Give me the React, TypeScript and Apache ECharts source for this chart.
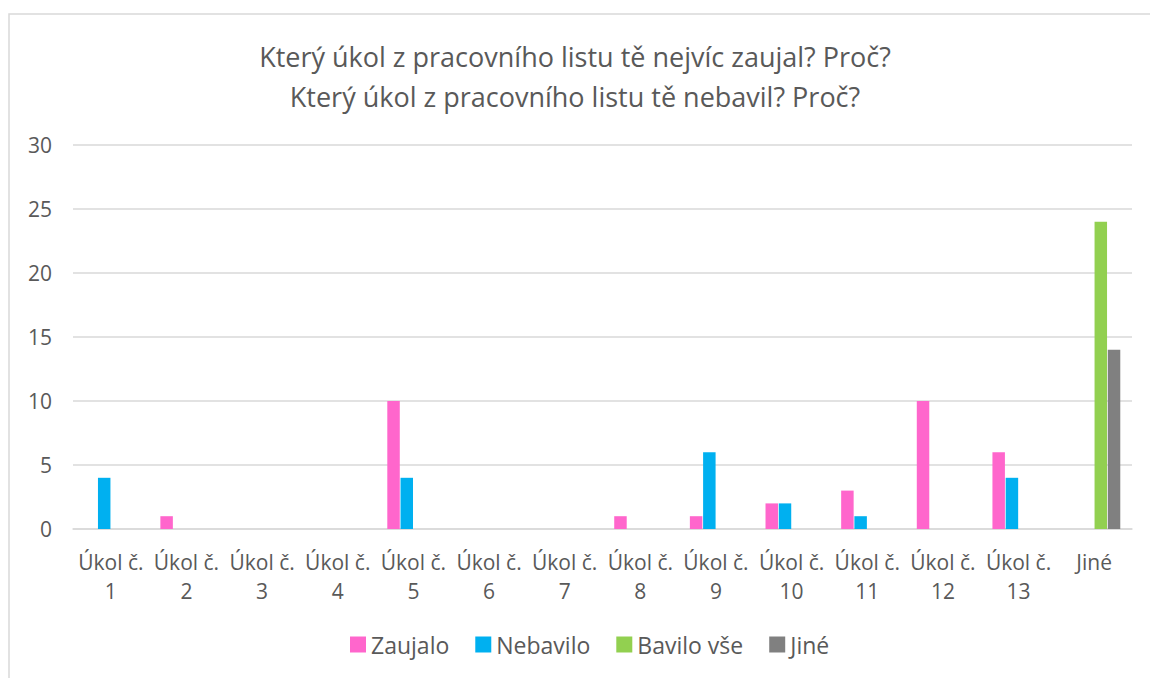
import React, { useEffect, useRef } from "react";
import * as echarts from "echarts";

const categories = ["Úkol č.\n1", "Úkol č.\n2", "Úkol č.\n3", "Úkol č.\n4", "Úkol č.\n5", "Úkol č.\n6", "Úkol č.\n7", "Úkol č.\n8", "Úkol č.\n9", "Úkol č.\n10", "Úkol č.\n11", "Úkol č.\n12", "Úkol č.\n13", "Jiné"];
const zaujalo = [0, 1, 0, 0, 10, 0, 0, 1, 1, 2, 3, 10, 6, 0];
const nebavilo = [4, 0, 0, 0, 4, 0, 0, 0, 6, 2, 1, 0, 4, 0];
const bavilo = [0, 0, 0, 0, 0, 0, 0, 0, 0, 0, 0, 0, 0, 24];
const jine = [0, 0, 0, 0, 0, 0, 0, 0, 0, 0, 0, 0, 0, 14];
const titleText = "Který úkol z pracovního listu tě nejvíc zaujal? Proč?\nKterý úkol z pracovního listu tě nebavil? Proč?";

const FONT = "Open Sans";
const TXT = "#595959";

export default function App() {
  const ref = useRef<HTMLDivElement>(null);
  useEffect(() => {
    document.body.style.margin = "0";
    const chart = echarts.init(ref.current!, null, { renderer: "svg" });
    const mk = (name: string, data: number[], color: string) => ({
      name,
      type: "bar",
      data,
      barGap: "6%",
      barCategoryGap: "31%",
      itemStyle: { color },
    });
    chart.setOption({
      animation: false,
      backgroundColor: "#fff",
      textStyle: { fontFamily: FONT },
      graphic: [
        {
          type: "rect",
          shape: { x: 9, y: 14, width: 1200, height: 700 },
          style: { fill: "none", stroke: "#d9d9d9", lineWidth: 1.5 },
          silent: true,
        },
      ],
      title: {
        text: titleText,
        left: "center",
        top: 31,
        textStyle: { fontFamily: FONT, fontSize: 27, fontWeight: "normal", color: TXT, lineHeight: 40 },
      },
      legend: {
        bottom: 17,
        left: 345,
        itemWidth: 16,
        itemHeight: 16,
        itemGap: 26,
        icon: "rect",
        textStyle: { fontFamily: FONT, fontSize: 23, color: TXT },
        data: ["Zaujalo", "Nebavilo", "Bavilo vše", "Jiné"],
      },
      grid: { left: 73, right: 18, top: 145, bottom: 149, containLabel: false },
      xAxis: {
        type: "category",
        data: categories,
        axisLine: { lineStyle: { color: "#d9d9d9", width: 1.5 } },
        axisTick: { show: false },
        axisLabel: { fontFamily: FONT, fontSize: 21, color: TXT, lineHeight: 29, margin: 18, interval: 0 },
      },
      yAxis: {
        type: "value",
        min: 0,
        max: 30,
        interval: 5,
        axisLine: { show: false },
        axisTick: { show: false },
        axisLabel: { fontFamily: FONT, fontSize: 21, color: TXT, margin: 21 },
        splitLine: { lineStyle: { color: "#d9d9d9", width: 1.5 } },
      },
      series: [
        mk("Zaujalo", zaujalo, "#ff66cc"),
        mk("Nebavilo", nebavilo, "#00b0f0"),
        mk("Bavilo vše", bavilo, "#92d050"),
        mk("Jiné", jine, "#808080"),
      ],
    });
    return () => chart.dispose();
  }, []);
  return <div ref={ref} style={{ width: 1150, height: 678 }} />;
}
